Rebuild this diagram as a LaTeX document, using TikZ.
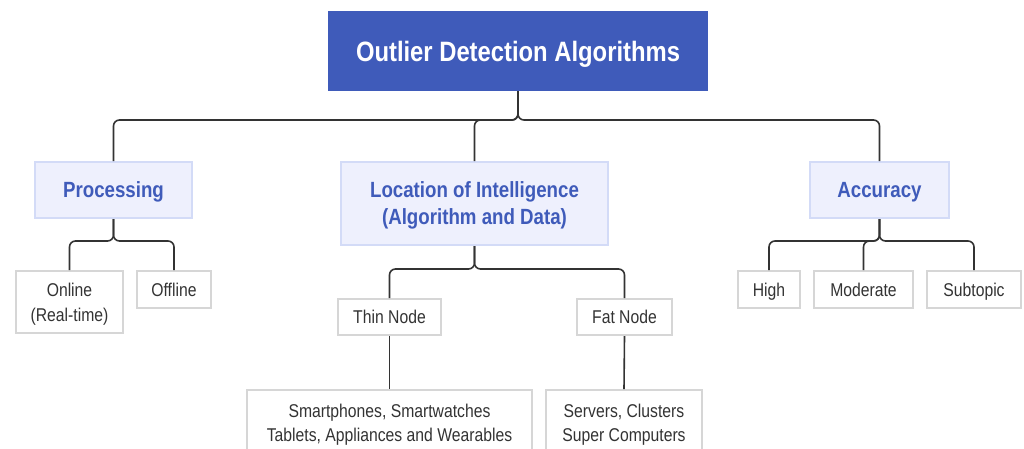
\documentclass[tikz,border=0pt]{standalone}
\usepackage{fontspec}
\setmainfont[FakeStretch=0.85]{Liberation Sans}
\definecolor{rootblue}{HTML}{3F5BBA}
\definecolor{catfill}{HTML}{EEF0FD}
\definecolor{catline}{HTML}{D3DBF7}
\definecolor{leafline}{HTML}{D6D6D6}
\definecolor{inkgray}{HTML}{333333}
\tikzset{
  rootbox/.style={fill=rootblue, draw=none, inner sep=0pt, text=white, text depth=0pt,
    font=\fontsize{28}{32}\selectfont\bfseries, align=center},
  catbox/.style={fill=catfill, draw=catline, line width=2pt, inner sep=0pt, text=rootblue, text depth=0pt,
    font=\fontsize{22}{27}\selectfont\bfseries, align=center},
  leafbox/.style={fill=white, draw=leafline, line width=2pt, inner sep=0pt, text=inkgray, text depth=0pt,
    font=\fontsize{18.5}{25}\selectfont, align=center},
  leaftext/.style={text=inkgray, text depth=0pt, font=\fontsize{18.5}{24.5}\selectfont, align=center},
  conn/.style={draw=inkgray, line width=1.6pt, rounded corners=6pt},
}
\begin{document}
\begin{tikzpicture}[x=1pt,y=-1pt]
\useasboundingbox (0,0) rectangle (1024,448);
\clip (0,0) rectangle (1024,448);
\fill[white] (0,0) rectangle (1024,448);
% nodes
\node[rootbox, minimum width=380pt, minimum height=80pt] (root) at (518,51) {Outlier Detection Algorithms};
\node[catbox, minimum width=157pt, minimum height=56pt] (proc) at (113.5,190) {Processing};
\node[catbox, minimum width=267pt, minimum height=83pt] (loc) at (474.5,203.5) {Location of Intelligence\\(Algorithm and Data)};
\node[catbox, minimum width=139pt, minimum height=56pt] (acc) at (879.5,190) {Accuracy};
\node[leafbox, minimum width=107pt, minimum height=62pt] (online) at (69.5,302) {Online\\(Real-time)};
\node[leafbox, minimum width=74pt, minimum height=37pt] (offline) at (174,289.5) {Offline};
\node[leafbox, minimum width=103pt, minimum height=36pt] (thin) at (389.5,317) {Thin Node};
\node[leafbox, minimum width=95pt, minimum height=36pt] (fat) at (624.5,317) {Fat Node};
\node[leafbox, minimum width=62pt, minimum height=37pt] (high) at (769,289.5) {High};
\node[leafbox, minimum width=99pt, minimum height=37pt] (mod) at (863.5,289.5) {Moderate};
\node[leafbox, minimum width=94pt, minimum height=37pt] (sub) at (974,289.5) {Subtopic};
\node[leafbox, minimum width=285pt, minimum height=72pt, anchor=north] (smart) at (389.5,389) {};
\node[leaftext] (smarttxt) at (389.5,423) {Smartphones, Smartwatches\\Tablets, Appliances and Wearables};
\node[leafbox, minimum width=156pt, minimum height=72pt, anchor=north] (serv) at (624,389) {};
\node[leaftext] (servtxt) at (624,423) {Servers, Clusters\\Super Computers};
% bus levels
\coordinate (bus0) at (0,120);
\coordinate (bus1) at (0,241);
\coordinate (bus2) at (0,269);
% connectors
\foreach \c in {proc,loc,acc}
  \draw[conn] (root.south) -- (root.south|-bus0) -| (\c.north);
\foreach \c in {online,offline}
  \draw[conn] (proc.south) -- (proc.south|-bus1) -| (\c.north);
\foreach \c in {thin,fat}
  \draw[conn] (loc.south) -- (loc.south|-bus2) -| (\c.north);
\foreach \c in {high,mod,sub}
  \draw[conn] (acc.south) -- (acc.south|-bus1) -| (\c.north);
\draw[conn] (thin.south) -- (smart.north);
\draw[conn] (fat.south) -- (serv.north);
\end{tikzpicture}
\end{document}
